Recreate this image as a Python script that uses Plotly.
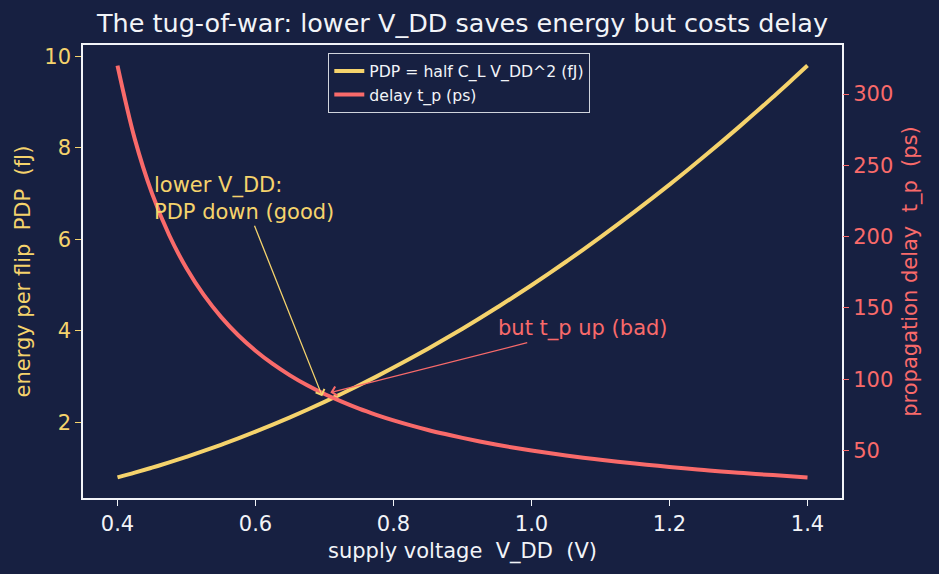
import plotly.graph_objects as go

# ---- data ----
vdd = [0.400, 0.425, 0.450, 0.475, 0.500, 0.525, 0.550, 0.575, 0.600, 0.625,
       0.650, 0.675, 0.700, 0.725, 0.750, 0.775, 0.800, 0.825, 0.850, 0.875,
       0.900, 0.925, 0.950, 0.975, 1.000, 1.025, 1.050, 1.075, 1.100, 1.125,
       1.150, 1.175, 1.200, 1.225, 1.250, 1.275, 1.300, 1.325, 1.350, 1.375,
       1.400]
pdp_fj = [0.800, 0.903, 1.013, 1.128, 1.250, 1.378, 1.513, 1.653, 1.800, 1.953,
          2.113, 2.278, 2.450, 2.628, 2.813, 3.003, 3.200, 3.403, 3.613, 3.828,
          4.050, 4.278, 4.513, 4.753, 5.000, 5.253, 5.513, 5.778, 6.050, 6.328,
          6.613, 6.903, 7.200, 7.503, 7.813, 8.128, 8.450, 8.778, 9.113, 9.453,
          9.800]
delay_ps = [320.0, 268.6, 230.4, 201.0, 177.8, 159.1, 143.7, 130.8, 120.0, 110.7,
            102.7, 95.7, 89.6, 84.2, 79.3, 75.0, 71.1, 67.6, 64.4, 61.5,
            58.8, 56.3, 54.0, 51.9, 50.0, 48.2, 46.5, 44.9, 43.5, 42.1,
            40.8, 39.6, 38.4, 37.3, 36.3, 35.3, 34.4, 33.5, 32.7, 31.9,
            31.1]

x_ticks = [0.4, 0.6, 0.8, 1.0, 1.2, 1.4]
y_ticks = [2, 4, 6, 8, 10]
y2_ticks = [50, 100, 150, 200, 250, 300]

BG = "#172041"
YEL = "#f5d36c"
RED = "#f96a6a"
WHITE = "#f2f4f8"
FONT = "DejaVu Sans"

fig = go.Figure()
fig.add_trace(go.Scatter(x=vdd, y=pdp_fj, mode="lines", name="PDP = half C_L V_DD^2 (fJ)",
                         line=dict(color=YEL, width=4, shape="spline"), yaxis="y"))
fig.add_trace(go.Scatter(x=vdd, y=delay_ps, mode="lines", name="delay t_p (ps)",
                         line=dict(color=RED, width=4, shape="spline"), yaxis="y2"))

fig.add_annotation(x=0.7, y=2.45, xref="x", yref="y", ax=0.583, ay=6.89, axref="x", ayref="y",
                   text="lower V_DD:<br>PDP down (good)", align="left", showarrow=True,
                   arrowhead=4, arrowsize=1.4, arrowwidth=1.3, arrowcolor=YEL, standoff=6,
                   font=dict(family=FONT, size=21, color=YEL))
fig.add_annotation(x=0.7, y=89.6, xref="x", yref="y2", ax=1.074, ay=135.4, axref="x", ayref="y2",
                   text="but t_p up (bad)", showarrow=True,
                   arrowhead=4, arrowsize=1.4, arrowwidth=1.3, arrowcolor=RED, standoff=6,
                   font=dict(family=FONT, size=21, color=RED))

fig.update_layout(
    width=939, height=574,
    paper_bgcolor=BG, plot_bgcolor=BG,
    margin=dict(l=83, r=97, t=45, b=76),
    font=dict(family=FONT, color=WHITE),
    title=dict(text="The tug-of-war: lower V_DD saves energy but costs delay",
               x=(83 + 759 / 2) / 939, xanchor="center", y=1 - 23 / 574, yanchor="middle",
               font=dict(family=FONT, size=25.5, color=WHITE)),
    showlegend=True,
    legend=dict(x=(328 - 83) / 759, y=(498 - 53) / 453, xanchor="left", yanchor="top",
                bgcolor=BG, bordercolor="#d0d4dc", borderwidth=1.3,
                font=dict(family=FONT, size=15.7, color=WHITE),
                tracegroupgap=0, itemwidth=30),
    xaxis=dict(range=[0.35, 1.45], tickvals=x_ticks, tickformat=".1f",
               showgrid=False, zeroline=False, showline=True, mirror=True,
               linecolor=WHITE, linewidth=1.5, ticks="outside", ticklen=6, tickwidth=1.2,
               tickcolor=WHITE, tickfont=dict(family=FONT, size=21, color=WHITE),
               title=dict(text="supply voltage  V_DD  (V)", standoff=8,
                          font=dict(family=FONT, size=21, color=WHITE)),
               automargin=False),
    yaxis=dict(range=[0.35, 10.25], tickvals=y_ticks,
               showgrid=False, zeroline=False, showline=True, mirror=True,
               linecolor=WHITE, linewidth=1.5, ticks="outside", ticklen=6, tickwidth=1.2,
               tickcolor=YEL, tickfont=dict(family=FONT, size=21, color=YEL),
               title=dict(text="energy per flip  PDP  (fJ)", standoff=8,
                          font=dict(family=FONT, size=21, color=YEL)),
               automargin=False),
    yaxis2=dict(range=[16.65, 334.45], tickvals=y2_ticks, overlaying="y", side="right",
                showgrid=False, zeroline=False, showline=False,
                ticks="outside", ticklen=6, tickwidth=1.2,
                tickcolor=RED, tickfont=dict(family=FONT, size=21, color=RED),
                title=dict(text="propagation delay  t_p  (ps)", standoff=10,
                           font=dict(family=FONT, size=21, color=RED)),
                automargin=False),
)

fig.write_html("out.html")
